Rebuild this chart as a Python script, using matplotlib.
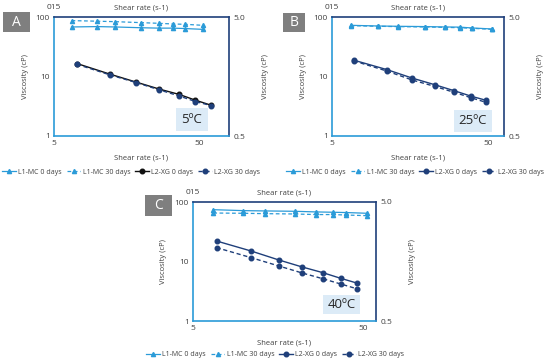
import matplotlib
matplotlib.use("Agg")
import matplotlib.pyplot as plt
from matplotlib.patches import Rectangle

plt.rcParams['font.family'] = ['Open Sans', 'DejaVu Sans']

# ---- data ----
x_mc = [6.6, 9.9, 13.2, 19.8, 26.4, 33.0, 39.6, 52.8]
x_xg_A = [7.2, 12.2, 18.4, 26.6, 36.4, 47.0, 60.0]
x_xg_B = [6.9, 11.2, 16.4, 22.9, 30.5, 38.9, 48.3]
x_xg_C = [6.9, 11.0, 16.0, 21.9, 28.9, 36.8, 45.7]

mc0_A = [68, 69, 68, 66, 65, 65, 64, 62]
mc30_A = [87, 85, 83.5, 80.4, 78.3, 76.3, 75.4, 72.5]
xg0_A = [16.5, 10.9, 8.04, 6.13, 4.99, 4.0, 3.3]
xg30_A = [16.0, 10.6, 7.9, 5.95, 4.7, 3.8, 3.25]

mc0_B = [72.5, 70.6, 69.8, 69, 68, 67.6, 65.4, 63]
mc30_B = [71.5, 69.8, 68.9, 68, 67, 66, 64.6, 62]
xg0_B = [18.8, 13.1, 9.38, 7.25, 5.75, 4.68, 4.0]
xg30_B = [18.3, 12.4, 8.7, 6.8, 5.4, 4.4, 3.7]

mc0_C = [74.3, 71.6, 70.8, 69.8, 68.1, 67.3, 66.5, 64.6]
mc30_C = [65.3, 64.6, 63.7, 62.9, 61.5, 61.5, 60.4, 58.9]
xg0_C = [22.1, 15.0, 10.6, 8.09, 6.5, 5.22, 4.35]
xg30_C = [17.1, 11.6, 8.4, 6.41, 5.14, 4.19, 3.49]

panel_letters = ["A", "B", "C"]
temps = ["5ºC", "25ºC", "40ºC"]
series_names = ["L1-MC 0 days", "L1-MC 30 days", "L2-XG 0 days", "L2-XG 30 days"]
y_ticks = [1, 10, 100]
y_ticklabels = ["1", "10", "100"]
x_ticks = [5, 50]
x_ticklabels = ["5", "50"]
right_ticks = [0.5, 5.0]
right_ticklabels = ["0.5", "5.0"]
top_ticklabel = "015"
xlabel = "Shear rate (s-1)"
ylabel = "Viscosity (cP)"

LB = "#2B9BD8"
NAVY = "#1F3F7A"
BLACK = "#111111"
TXT = '#404040'

fig = plt.figure(figsize=(5.5, 3.63), dpi=100)

panels = [
    dict(rect=[54/550, 1-136/363, 175/550, 119/363], xmax=80, xxg=x_xg_A,
         data=(mc0_A, mc30_A, xg0_A, xg30_A), xg0col=BLACK,
         letter_box=(3, 12, 27, 20), temp_box=(176, 108, 32, 23),
         legend_c=(131, 172)),
    dict(rect=[332/550, 1-136/363, 172/550, 119/363], xmax=63.4, xxg=x_xg_B,
         data=(mc0_B, mc30_B, xg0_B, xg30_B), xg0col=NAVY,
         letter_box=(283, 13, 22, 19), temp_box=(454, 110, 38, 22),
         legend_c=(415, 172)),
    dict(rect=[192.7/550, 1-321/363, 183.3/550, 119/363], xmax=59.3, xxg=x_xg_C,
         data=(mc0_C, mc30_C, xg0_C, xg30_C), xg0col=NAVY,
         letter_box=(145, 195, 27, 21), temp_box=(323, 295, 37, 19),
         legend_c=(275, 355)),
]

for i, p in enumerate(panels):
    ax = fig.add_axes(p['rect'])
    mc0, mc30, xg0, xg30 = p['data']
    h1, = ax.plot(x_mc, mc0, '-', color=LB, marker='^', ms=3, lw=0.9)
    h2, = ax.plot(x_mc, mc30, '--', color=LB, marker='^', ms=3, lw=0.9, dashes=(3, 2))
    h3, = ax.plot(p['xxg'], xg0, '-', color=p['xg0col'], marker='o', ms=3.3, lw=1.0)
    h4, = ax.plot(p['xxg'], xg30, '--', color=NAVY, marker='o', ms=3.3, lw=1.0, dashes=(3, 2))
    ax.set_xscale('log')
    ax.set_yscale('log')
    ax.set_xlim(5, p['xmax'])
    ax.set_ylim(1, 100)
    ax.set_xticks(x_ticks)
    ax.set_xticklabels(x_ticklabels)
    ax.set_yticks(y_ticks)
    ax.set_yticklabels(y_ticklabels)
    ax.minorticks_off()
    ax.tick_params(length=0, labelsize=6, colors=TXT, pad=3)
    ax.set_xlabel(xlabel, fontsize=5.5, color=TXT, labelpad=5)
    ax.set_ylabel(ylabel, fontsize=5.5, color=TXT, labelpad=5)
    for s in ['left', 'bottom']:
        ax.spines[s].set_color(LB)
        ax.spines[s].set_linewidth(1.2)
    for s in ['top', 'right']:
        ax.spines[s].set_color(NAVY)
        ax.spines[s].set_linewidth(1.2)

    axr = ax.twinx()
    axr.set_yscale('log')
    axr.set_ylim(0.5, 5.0)
    axr.set_yticks(right_ticks)
    axr.set_yticklabels(right_ticklabels)
    axr.minorticks_off()
    axr.tick_params(length=0, labelsize=6, colors=TXT, pad=3)
    axr.set_ylabel(ylabel, fontsize=5.5, color=TXT, labelpad=12)
    for s in axr.spines.values():
        s.set_visible(False)

    axt = ax.twiny()
    axt.set_xscale('log')
    axt.set_xlim(5, p['xmax'])
    axt.set_xticks([5])
    axt.set_xticklabels([top_ticklabel])
    axt.minorticks_off()
    axt.tick_params(length=0, labelsize=6, colors=TXT, pad=4.5)
    axt.set_xlabel(xlabel, fontsize=5.5, color=TXT)
    axt.xaxis.set_label_coords(0.5, 1 + 7.5 / 119)
    for s in axt.spines.values():
        s.set_visible(False)

    # panel letter
    lx, ly, lw_, lh = p['letter_box']
    fig.patches.append(Rectangle((lx/550, 1-(ly+lh)/363), lw_/550, lh/363,
                                 transform=fig.transFigure, facecolor='#7F7F7F',
                                 edgecolor='none'))
    fig.text((lx+lw_/2)/550, 1-(ly+lh/2)/363, panel_letters[i], color='white',
             fontsize=10, ha='center', va='center')
    # temperature label
    tx, ty, tw, th = p['temp_box']
    fig.patches.append(Rectangle((tx/550, 1-(ty+th)/363), tw/550, th/363,
                                 transform=fig.transFigure, facecolor='#DCEBF7',
                                 edgecolor='none', zorder=5))
    fig.text((tx+tw/2)/550, 1-(ty+th/2)/363, temps[i], color='#262626',
             fontsize=9.5, ha='center', va='center', zorder=6)

    cx, cy = p['legend_c']
    fig.legend([h1, h2, h3, h4], series_names, loc='center',
               bbox_to_anchor=(cx/550, 1-cy/363), ncol=4, frameon=False,
               fontsize=5, handlelength=2.0, columnspacing=0.7, handletextpad=0.3,
               labelcolor=TXT)

fig.savefig("out.png", dpi=100)
